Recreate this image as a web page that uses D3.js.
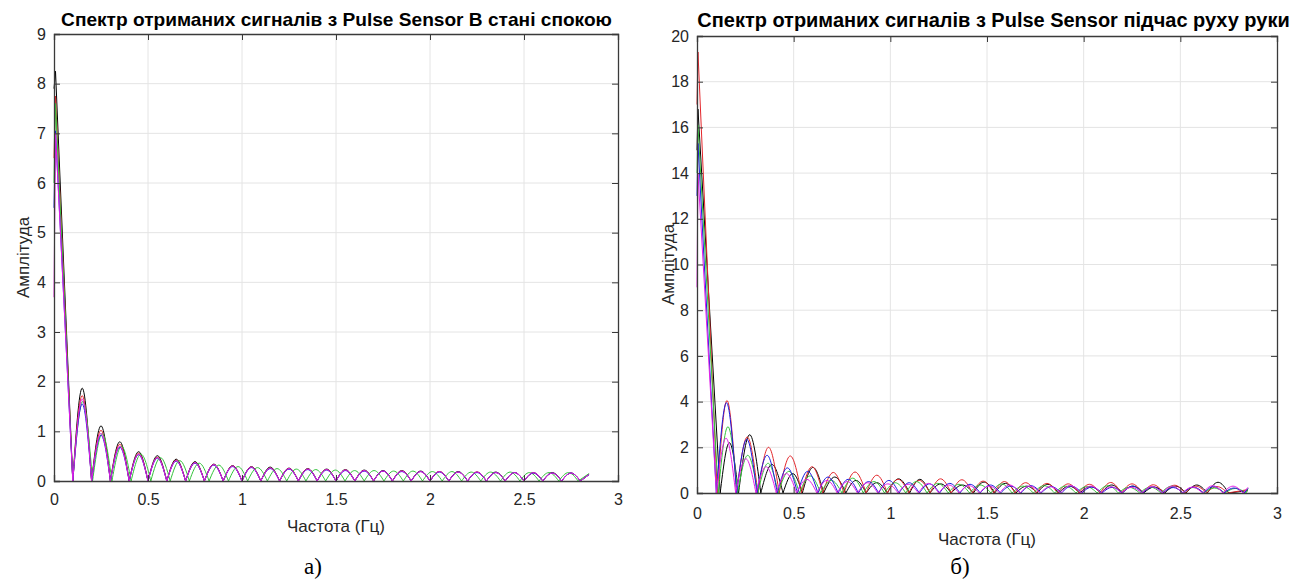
<!DOCTYPE html>
<html>
<head>
<meta charset="utf-8">
<script src="https://cdn.jsdelivr.net/npm/d3@7"></script>
<style>
  body { margin: 0; background: #fff; }
  text { font-family: "Liberation Sans", Arial, Helvetica, sans-serif; }
</style>
</head>
<body>
<div id="canvas"></div>
<script>
"use strict"

// ---------- data ----------
let seriesNames = ["black", "red", "green", "blue", "magenta"]
let seriesColors = ["#000000", "#e3262b", "#33c43a", "#1c1ce0", "#e61ee6"]
let xTicks = [0, 0.5, 1, 1.5, 2, 2.5, 3]

// panel a) at rest
let restTitle = "Спектр отриманих сигналів з Pulse Sensor В стані спокою"
let restYTicks = [0, 1, 2, 3, 4, 5, 6, 7, 8, 9]
let restStart = [7.9, 6.5, 6.0, 5.5, 3.7]        // amplitude at 0 Hz
let restPeak = [8.25, 7.75, 7.6, 7.05, 7.0]      // main lobe top
let restPeakF = 0.008
let restEndF = 2.846
let restEnd = [0.13, 0.14, 0.15, 0.13, 0.13]
let restNulls = [0.1, 0.2, 0.3, 0.4, 0.5, 0.6, 0.7, 0.8, 0.9, 1.0, 1.1, 1.2, 1.3, 1.4,
  1.5, 1.6, 1.7, 1.8, 1.9, 2.0, 2.1, 2.2, 2.3, 2.4, 2.5, 2.6, 2.7, 2.8]
let restNullsGreen = [0.1, 0.205, 0.308, 0.41, 0.515, 0.618, 0.72, 0.825, 0.928, 1.03,
  1.135, 1.238, 1.34, 1.445, 1.548, 1.65, 1.755, 1.858, 1.96, 2.065, 2.168, 2.27,
  2.375, 2.478, 2.58, 2.685, 2.788]
let restLobesBlack = [1.87, 1.11, 0.79, 0.59, 0.51, 0.44, 0.39, 0.34, 0.31, 0.29, 0.28, 0.26,
  0.25, 0.24, 0.23, 0.22, 0.21, 0.21, 0.20, 0.19, 0.19, 0.18, 0.18, 0.17, 0.17, 0.17, 0.16]
let restLobesRed = [1.72, 1.02, 0.74, 0.56, 0.48, 0.42, 0.37, 0.33, 0.30, 0.28, 0.26, 0.25,
  0.24, 0.23, 0.22, 0.21, 0.20, 0.20, 0.19, 0.19, 0.18, 0.18, 0.17, 0.17, 0.16, 0.16, 0.16]
let restLobesGreen = [1.60, 0.95, 0.70, 0.54, 0.47, 0.41, 0.36, 0.32, 0.29, 0.27, 0.25, 0.24,
  0.23, 0.22, 0.21, 0.21, 0.20, 0.20, 0.19, 0.19, 0.18, 0.18, 0.18, 0.17, 0.17, 0.17]
let restLobesBlue = [1.55, 0.92, 0.68, 0.53, 0.46, 0.40, 0.36, 0.32, 0.29, 0.27, 0.25, 0.24,
  0.23, 0.22, 0.21, 0.20, 0.20, 0.19, 0.19, 0.18, 0.18, 0.17, 0.17, 0.17, 0.16, 0.16, 0.16]
let restLobesMagenta = [1.65, 0.96, 0.70, 0.54, 0.47, 0.41, 0.37, 0.33, 0.30, 0.28, 0.26, 0.25,
  0.24, 0.23, 0.22, 0.21, 0.20, 0.20, 0.19, 0.19, 0.18, 0.18, 0.17, 0.17, 0.17, 0.16, 0.16]

// panel б) hand moving
let moveTitle = "Спектр отриманих сигналів з Pulse Sensor підчас руху руки"
let moveYTicks = [0, 2, 4, 6, 8, 10, 12, 14, 16, 18, 20]
let moveStart = [15, 17, 14, 13, 9]
let movePeak = [16.8, 19.3, 16.1, 15.3, 14.0]
let movePeakF = 0.005
let moveEndF = 2.85
let moveEnd = [0.1, 0.15, 0.2, 0.2, 0.25]
let moveNullsBlack = [0.12, 0.215, 0.33, 0.445, 0.545, 0.655, 0.77, 0.875, 0.985, 1.1, 1.205,
  1.315, 1.43, 1.54, 1.65, 1.76, 1.87, 1.98, 2.09, 2.2, 2.31, 2.42, 2.53, 2.64, 2.75]
let moveNullsRed = [0.105, 0.205, 0.315, 0.425, 0.54, 0.65, 0.76, 0.875, 0.985, 1.095, 1.205,
  1.315, 1.425, 1.535, 1.645, 1.755, 1.865, 1.975, 2.085, 2.195, 2.305, 2.415, 2.525, 2.635, 2.745]
let moveNullsGreen = [0.11, 0.21, 0.315, 0.42, 0.53, 0.64, 0.75, 0.86, 0.97, 1.08, 1.19, 1.3,
  1.41, 1.52, 1.63, 1.74, 1.85, 1.96, 2.07, 2.18, 2.29, 2.4, 2.51, 2.62, 2.73, 2.84]
let moveNullsBlue = [0.1, 0.205, 0.31, 0.415, 0.52, 0.625, 0.73, 0.835, 0.94, 1.045, 1.15, 1.255,
  1.36, 1.465, 1.57, 1.675, 1.78, 1.885, 1.99, 2.095, 2.2, 2.305, 2.41, 2.515, 2.62, 2.725, 2.83]
let moveNullsMagenta = [0.1, 0.2, 0.305, 0.41, 0.515, 0.62, 0.725, 0.83, 0.935, 1.04, 1.145,
  1.25, 1.355, 1.46, 1.565, 1.67, 1.775, 1.88, 1.985, 2.09, 2.195, 2.3, 2.405, 2.51, 2.615, 2.72, 2.825]
let moveLobesBlack = [2.2, 2.55, 1.25, 0.85, 1.12, 0.7, 0.55, 0.45, 0.62, 0.6, 0.4, 0.35, 0.48,
  0.42, 0.3, 0.38, 0.3, 0.28, 0.35, 0.3, 0.26, 0.3, 0.35, 0.47]
let moveLobesRed = [4.05, 2.45, 2.0, 1.62, 1.15, 0.9, 0.92, 0.78, 0.6, 0.55, 0.62, 0.58, 0.52,
  0.5, 0.45, 0.42, 0.4, 0.38, 0.46, 0.4, 0.36, 0.34, 0.3, 0.28]
let moveLobesGreen = [2.9, 1.65, 1.3, 0.95, 0.75, 0.55, 0.65, 0.5, 0.45, 0.5, 0.42, 0.38, 0.35,
  0.4, 0.3, 0.32, 0.3, 0.28, 0.32, 0.25, 0.26, 0.3, 0.24, 0.22, 0.2]
let moveLobesBlue = [3.95, 2.35, 1.65, 1.1, 0.95, 0.7, 0.6, 0.5, 0.55, 0.45, 0.4, 0.42, 0.38,
  0.35, 0.3, 0.32, 0.28, 0.3, 0.26, 0.25, 0.3, 0.27, 0.24, 0.26, 0.28, 0.22]
let moveLobesMagenta = [2.4, 1.5, 1.15, 0.85, 0.6, 0.55, 0.5, 0.45, 0.4, 0.38, 0.42, 0.35, 0.32,
  0.3, 0.35, 0.3, 0.28, 0.32, 0.3, 0.27, 0.25, 0.28, 0.3, 0.26, 0.32, 0.3]

// ---------- drawing ----------
let drawing = d3.select("#canvas")
  .append("svg")
  .attr("width", 1293)
  .attr("height", 580)
  .style("background", "#fff")

function buildSeries(start, peak, peakF, nulls, lobes, endF, end) {
  return seriesNames.map((name, i) => ({
    color: seriesColors[i], start: start[i], peak: peak[i], peakF: peakF,
    nulls: nulls[i], lobes: lobes[i], endF: endF, end: end[i]
  }))
}

let restSeries = buildSeries(restStart, restPeak, restPeakF,
  [restNulls, restNulls, restNullsGreen, restNulls, restNulls],
  [restLobesBlack, restLobesRed, restLobesGreen, restLobesBlue, restLobesMagenta],
  restEndF, restEnd)

let moveSeries = buildSeries(moveStart, movePeak, movePeakF,
  [moveNullsBlack, moveNullsRed, moveNullsGreen, moveNullsBlue, moveNullsMagenta],
  [moveLobesBlack, moveLobesRed, moveLobesGreen, moveLobesBlue, moveLobesMagenta],
  moveEndF, moveEnd)

function spectrumPath(x, y, s) {
  let straight = d3.line().x(d => x(d[0])).y(d => y(d[1]))
  let arch = d3.line().x(d => x(d[0])).y(d => y(d[1])).curve(d3.curveMonotoneX)
  let parts = [straight([[0, s.start], [s.peakF, s.peak], [s.nulls[0], 0]])]
  let n = Math.min(s.lobes.length, s.nulls.length - 1)
  for (let i = 0; i < n; i++) {
    let f0 = s.nulls[i], f1 = s.nulls[i + 1]
    parts.push(arch([[f0, 0], [(f0 + f1) / 2, s.lobes[i]], [f1, 0]]))
  }
  parts.push(straight([[s.nulls[n], 0], [s.endF, s.end]]))
  return parts.join("")
}

function fitText(sel, size, width) {
  sel.attr("font-size", size)
  let len = sel.node().getComputedTextLength()
  sel.attr("font-size", size * width / len)
}

function drawPanel(p) {
  let x = d3.scaleLinear().domain([0, 3]).range([p.left, p.right])
  let y = d3.scaleLinear().domain([0, p.yTicks[p.yTicks.length - 1]]).range([p.bottom, p.top])
  let g = drawing.append("g")

  // grid
  g.selectAll(".vgrid").data(xTicks.slice(1, -1)).join("line")
    .attr("x1", d => x(d)).attr("x2", d => x(d))
    .attr("y1", p.top).attr("y2", p.bottom)
    .attr("stroke", "#e4e4e4").attr("stroke-width", 1)
  g.selectAll(".hgrid").data(p.yTicks.slice(1, -1)).join("line")
    .attr("x1", p.left).attr("x2", p.right)
    .attr("y1", d => y(d)).attr("y2", d => y(d))
    .attr("stroke", "#e4e4e4").attr("stroke-width", 1)

  // spectra
  g.selectAll(".spec").data(p.series).join("path")
    .attr("d", s => spectrumPath(x, y, s))
    .attr("fill", "none")
    .attr("stroke", s => s.color)
    .attr("stroke-width", 1)

  // axes, ticks inside, box all round
  let axisColor = "#3a3a3a"
  let bottom = g.append("g").attr("transform", `translate(0,${p.bottom})`)
    .call(d3.axisBottom(x).tickValues(xTicks).tickSize(-6).tickPadding(p.xPad).tickFormat(d => d))
  let left = g.append("g").attr("transform", `translate(${p.left},0)`)
    .call(d3.axisLeft(y).tickValues(p.yTicks).tickSize(-6).tickPadding(8).tickFormat(d => d))
  let top = g.append("g").attr("transform", `translate(0,${p.top})`)
    .call(d3.axisTop(x).tickValues(xTicks).tickSize(-6).tickFormat(""))
  let right = g.append("g").attr("transform", `translate(${p.right},0)`)
    .call(d3.axisRight(y).tickValues(p.yTicks).tickSize(-6).tickFormat(""))
  for (let a of [bottom, left, top, right]) {
    a.attr("font-size", 16)
    a.select(".domain").attr("stroke", axisColor).attr("stroke-width", 1.3)
    a.selectAll(".tick line").attr("stroke", axisColor).attr("stroke-width", 1)
    a.selectAll(".tick text").attr("fill", "#262626")
      .style("font-family", "'Liberation Sans', Arial, sans-serif")
  }

  // titles and labels
  let title = g.append("text")
    .attr("x", (p.titleStart + p.titleEnd) / 2).attr("y", p.titleY)
    .attr("text-anchor", "middle").attr("font-weight", "bold").attr("fill", "#000")
    .text(p.title)
  fitText(title, 16, p.titleEnd - p.titleStart)

  g.append("text")
    .attr("x", (p.left + p.right) / 2).attr("y", p.xLabelY)
    .attr("text-anchor", "middle").attr("font-size", 17).attr("fill", "#262626")
    .text("Частота (Гц)")

  g.append("text")
    .attr("transform", `translate(${p.yLabelX},${(p.top + p.bottom) / 2}) rotate(-90)`)
    .attr("text-anchor", "middle").attr("font-size", 17).attr("fill", "#262626")
    .text("Амплітуда")

  g.append("text")
    .attr("x", p.tagX).attr("y", 574)
    .attr("text-anchor", "middle")
    .style("font-family", "'Liberation Serif', 'Times New Roman', serif")
    .attr("font-size", 23).attr("fill", "#000")
    .text(p.tag)
}

drawPanel({
  left: 54, right: 618, top: 34, bottom: 481,
  yTicks: restYTicks, series: restSeries, xPad: 13,
  title: restTitle, titleStart: 61, titleEnd: 612, titleY: 26,
  xLabelY: 532, yLabelX: 29, tag: "а)", tagX: 313
})

drawPanel({
  left: 697, right: 1277, top: 36, bottom: 493,
  yTicks: moveYTicks, series: moveSeries, xPad: 15,
  title: moveTitle, titleStart: 697, titleEnd: 1290, titleY: 27,
  xLabelY: 545, yLabelX: 674, tag: "б)", tagX: 960
})
</script>
</body>
</html>
